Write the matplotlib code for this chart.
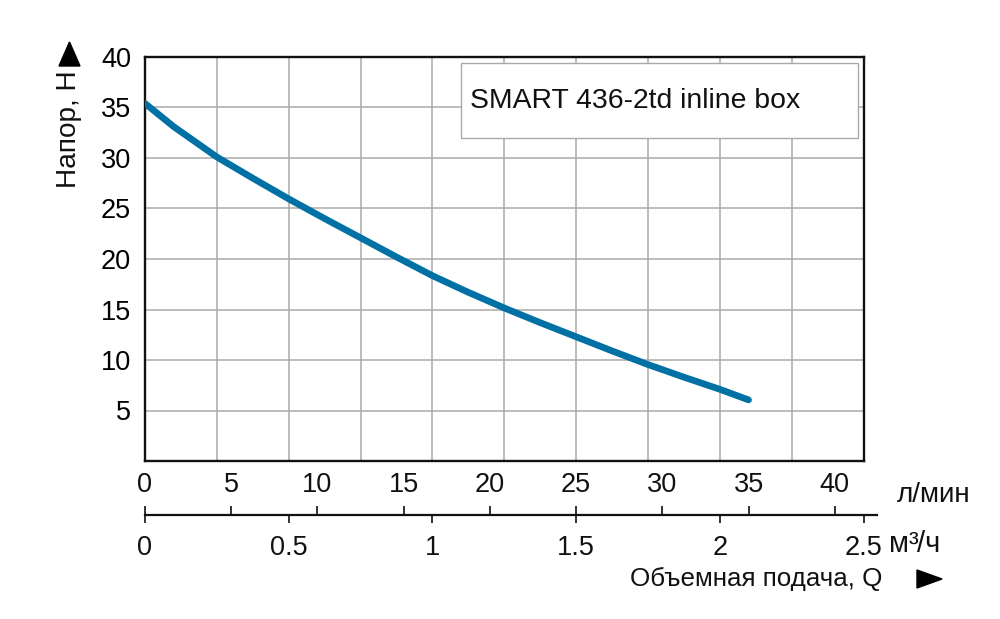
#!/usr/bin/env python3
"""Pump head curve: SMART 436-2td inline box."""

import matplotlib

matplotlib.use("Agg")
import matplotlib.pyplot as plt
from matplotlib.patches import Polygon, Rectangle
from matplotlib.ticker import MultipleLocator

plt.rcParams["font.family"] = ["Liberation Sans", "DejaVu Sans"]

CURVE_COLOR = "#0070a5"
GRID_COLOR = "#aaaaaa"
INK = "#111111"

# flow in m3/h, head in m
flow_m3h = [0.0, 0.1, 0.25, 0.375, 0.5, 0.625, 0.75, 0.875, 1.0, 1.125,
            1.25, 1.375, 1.5, 1.625, 1.75, 1.875, 2.0, 2.1]
head_m = [35.4, 33.1, 30.1, 28.0, 25.95, 24.0, 22.1, 20.2, 18.35, 16.7,
          15.15, 13.7, 12.3, 10.9, 9.55, 8.3, 7.1, 6.05]

y_ticks = [5, 10, 15, 20, 25, 30, 35, 40]
lpm_ticks = [0, 5, 10, 15, 20, 25, 30, 35, 40]
m3h_ticks = [0, 0.5, 1, 1.5, 2, 2.5]
m3h_labels = ["0", "0.5", "1", "1.5", "2", "2.5"]

TITLE = "SMART 436-2td inline box"
FS = 19.5


def m3h_to_lpm(q):
    return q * 1000.0 / 60.0


def lpm_to_m3h(q):
    return q * 60.0 / 1000.0


fig = plt.figure(figsize=(10, 6.19), dpi=100)
W, H = 1000.0, 619.0


def fx(px):
    return px / W


def fy(py):
    return 1 - py / H


left, right, top, bottom = 145, 863.5, 57, 461
ax = fig.add_axes([fx(left), fy(bottom), (right - left) / W, (bottom - top) / H])
ax.set_xlim(0, 2.5)
ax.set_ylim(0, 40)
ax.xaxis.set_major_locator(MultipleLocator(0.25))
ax.set_yticks(y_ticks)
ax.tick_params(axis="x", length=0, labelbottom=False)
ax.tick_params(axis="y", length=0, pad=10, labelsize=FS)
ax.grid(True, color=GRID_COLOR, linewidth=1.1)
ax.set_axisbelow(True)
for sp in ax.spines.values():
    sp.set_linewidth(1.7)
    sp.set_color(INK)

ax.plot(flow_m3h, head_m, color=CURVE_COLOR, linewidth=4.8, solid_capstyle="round", zorder=3)

ax.add_patch(Rectangle((0.4405, 0.799), 0.5515, 0.187, transform=ax.transAxes,
                       facecolor="white", edgecolor=GRID_COLOR, linewidth=1.0, zorder=2))
ax.text(0.4526, 0.891, TITLE, transform=ax.transAxes, fontsize=20.4,
        va="center", ha="left", color=INK, zorder=4)

# second scale line below the plot: m3/h ticks down, l/min ticks up
line_y = 515
line_end = 877
xmax2 = 2.5 * (line_end - left) / (right - left)
ax2 = fig.add_axes([fx(left), fy(line_y), (line_end - left) / W, 0.0001])
ax2.set_xlim(0, xmax2)
ax2.set_yticks([])
for name in ("left", "right", "top"):
    ax2.spines[name].set_visible(False)
ax2.spines["bottom"].set_linewidth(1.6)
ax2.spines["bottom"].set_color(INK)
ax2.set_xticks(m3h_ticks, m3h_labels)
ax2.tick_params(axis="x", direction="out", length=5.8, width=1.2, pad=8.4, labelsize=FS,
                colors=INK)

sec = ax2.secondary_xaxis("top", functions=(m3h_to_lpm, lpm_to_m3h))
sec.spines["top"].set_visible(False)
sec.set_xticks(lpm_ticks)
sec.tick_params(axis="x", direction="out", length=6.5, width=1.2, pad=6.0, labelsize=FS,
                colors=INK)

fig.text(fx(897), fy(502), "л/мин", fontsize=20, va="baseline", ha="left", color=INK)
fig.text(fx(889), fy(552), "м³", fontsize=21, va="baseline", ha="left", color=INK)
fig.text(fx(917), fy(552), "/ч", fontsize=21, va="baseline", ha="left", color=INK)
fig.text(fx(882), fy(586), "Объемная подача, Q", fontsize=18.7, va="baseline", ha="right",
         color=INK)
fig.text(fx(69), fy(129), "Напор, Н", fontsize=20.2, va="center", ha="center", rotation=90,
         color=INK)

# arrow heads next to the axis titles
fig.add_artist(Polygon([(fx(917), fy(570)), (fx(917), fy(588)), (fx(942), fy(579))],
                       closed=True, transform=fig.transFigure, color="black"))
fig.add_artist(Polygon([(fx(59), fy(66)), (fx(80), fy(66)), (fx(69.5), fy(42))],
                       closed=True, transform=fig.transFigure, color="black"))

fig.savefig("out.png", dpi=100)
